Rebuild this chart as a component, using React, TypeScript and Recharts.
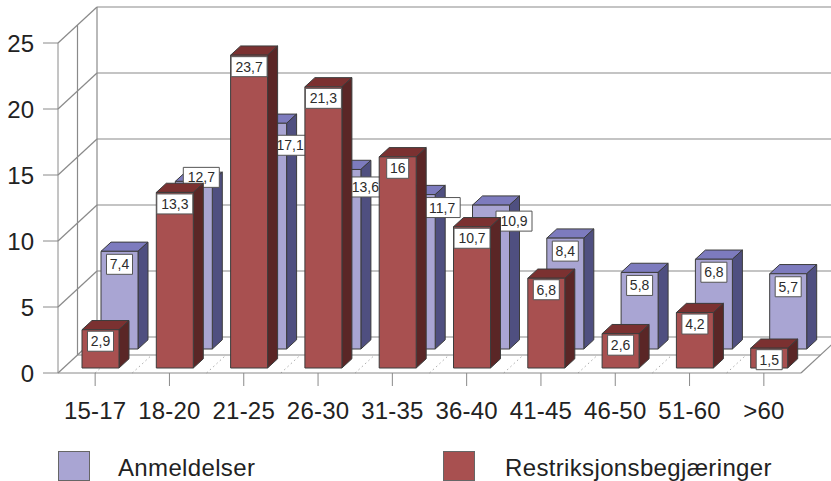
import { Bar, BarChart, CartesianGrid, Legend, XAxis, YAxis } from "recharts";

const ageGroups = ["15-17", "18-20", "21-25", "26-30", "31-35", "36-40", "41-45", "46-50", "51-60", ">60"];
const anmeldelser = [7.4, 12.7, 17.1, 13.6, 11.7, 10.9, 8.4, 5.8, 6.8, 5.7];
const restriksjon = [2.9, 13.3, 23.7, 21.3, 16, 10.7, 6.8, 2.6, 4.2, 1.5];
const yTicks = [0, 5, 10, 15, 20, 25];

const rows = ageGroups.map((group, i) => ({
  group,
  anmeldelser: anmeldelser[i],
  restriksjon: restriksjon[i],
}));

// hand placed like in the original, the blue labels get pushed out from behind the red bars
const blueNudge = [[0, 0], [7.5, -17], [22, 9], [23, 4.5], [25.5, 0], [23, 3], [0, 0], [0, 0], [0, 0], [0, 0]];

const WIDTH = 831;
const HEIGHT = 481;
const LEFT = 58;
const RIGHT = 801;
const TOP = 43;
const BOTTOM = 373;
const DEPTH_X = 39;
const DEPTH_Y = 36;
const BAR = 37;
const GRID = "#8a8a8a";
const FONT = "'Liberation Sans', Arial, sans-serif";

const BLUE = { front: "#a9a5d3", top: "#7d7bbe", side: "#4f4f80" };
const RED = { front: "#a85050", top: "#7b3131", side: "#5a2626" };

function ValueLabel({ cx, cy, text }: { cx: number; cy: number; text: string }) {
  const w = text.length >= 4 ? 36 : text.length === 3 ? 26 : 22;
  return (
    <g>
      <rect x={cx - w / 2} y={cy - 10} width={w} height={20} fill="#fff" stroke="#555" strokeWidth={1} />
      <text x={cx} y={cy + 5} textAnchor="middle" fontFamily={FONT} fontSize={14} fill="#2c2c2c">
        {text}
      </text>
    </g>
  );
}

function makeShape(colors: typeof BLUE, shift: number, side: number, labelGap: number, nudge?: number[][]) {
  return function Prism(props: any) {
    const { x, y, height, index, value } = props;
    const l = x + shift;
    const t = y - shift;
    const r = l + BAR;
    const b = t + height;
    const [dx, dy] = nudge ? nudge[index] : [0, 0];
    return (
      <g stroke="#3c3c3c" strokeWidth={1} strokeLinejoin="round">
        <path d={`M${l},${t} L${l + side},${t - side * 0.92} L${r + side},${t - side * 0.92} L${r},${t} Z`} fill={colors.top} />
        <path d={`M${r},${t} L${r + side},${t - side * 0.92} L${r + side},${b - side * 0.92} L${r},${b} Z`} fill={colors.side} />
        <rect x={l} y={t} width={BAR} height={height} fill={colors.front} />
        <g stroke="none">
          <ValueLabel cx={l + BAR / 2 + dx} cy={t + labelGap + dy} text={String(value).replace(".", ",")} />
        </g>
      </g>
    );
  };
}

function wallLine(props: any) {
  const { x1, y1, key } = props;
  const backY = y1 - DEPTH_Y;
  const backX = x1 + DEPTH_X;
  return (
    <g key={key} stroke={GRID} strokeWidth={1.2} fill="none">
      <line x1={x1} y1={y1} x2={backX} y2={backY} />
      <line x1={backX} y1={backY} x2={WIDTH} y2={backY} />
      {y1 === BOTTOM && (
        <>
          <line x1={LEFT + DEPTH_X / 2} y1={TOP - DEPTH_Y / 2} x2={LEFT + DEPTH_X / 2} y2={BOTTOM - DEPTH_Y / 2} />
          <line x1={backX} y1={TOP - DEPTH_Y} x2={backX} y2={backY} />
          <line x1={LEFT + DEPTH_X / 2} y1={BOTTOM - DEPTH_Y / 2} x2={RIGHT + DEPTH_X / 2} y2={BOTTOM - DEPTH_Y / 2} />
          <line x1={RIGHT} y1={BOTTOM} x2={RIGHT + DEPTH_X} y2={backY} />
        </>
      )}
    </g>
  );
}

function floorDots(props: any) {
  const { x1, key } = props;
  const x = x1 + (RIGHT - LEFT) / ageGroups.length / 2;
  if (x >= RIGHT - 1) return <g key={key} />;
  return (
    <line
      key={key}
      x1={x}
      y1={BOTTOM}
      x2={x + DEPTH_X / 2}
      y2={BOTTOM - DEPTH_Y / 2}
      stroke="#a8a8a8"
      strokeWidth={1}
      strokeDasharray="1.5 3"
    />
  );
}

function LegendRow({ payload }: any) {
  const swatchX = [58, 443];
  const textX = [118, 505];
  return (
    <div
      style={{
        position: "relative",
        width: WIDTH,
        height: HEIGHT,
        fontFamily: FONT,
        fontSize: 24,
        letterSpacing: 0.35,
        color: "#222",
      }}
    >
      {(payload ?? []).map((p: any, i: number) => (
        <div key={p.value}>
          <div
            style={{
              position: "absolute",
              left: swatchX[i],
              top: 451,
              width: 30,
              height: 28,
              background: p.color,
              border: "1px solid #666",
            }}
          />
          <div style={{ position: "absolute", left: textX[i], top: 454, whiteSpace: "nowrap" }}>{p.value}</div>
        </div>
      ))}
    </div>
  );
}

export default function App() {
  return (
    <div style={{ position: "absolute", left: 0, top: 0, width: WIDTH, height: HEIGHT, background: "#fff", overflow: "hidden" }}>
      <BarChart
        width={WIDTH}
        height={HEIGHT}
        data={rows}
        margin={{ top: TOP, right: WIDTH - RIGHT, bottom: HEIGHT - BOTTOM - 40, left: 0 }}
        barSize={BAR}
        barGap={-BAR}
      >
        <CartesianGrid horizontal={wallLine} vertical={floorDots} />
        <XAxis
          dataKey="group"
          interval={0}
          height={40}
          tickSize={13}
          tickMargin={16}
          stroke={GRID}
          tick={{ fontFamily: FONT, fontSize: 24, letterSpacing: 0.2, fill: "#222" }}
        />
        <YAxis
          width={LEFT}
          domain={[0, 25]}
          ticks={yTicks}
          tickSize={15}
          tickMargin={9}
          stroke={GRID}
          tick={{ fontFamily: FONT, fontSize: 24, fill: "#222" }}
        />
        <Legend
          layout="horizontal"
          verticalAlign="middle"
          wrapperStyle={{ left: 0, top: 0, width: WIDTH, height: HEIGHT, pointerEvents: "none" }}
          content={<LegendRow />}
        />
        <Bar
          dataKey="anmeldelser"
          name="Anmeldelser"
          fill={BLUE.front}
          isAnimationActive={false}
          shape={makeShape(BLUE, 24, 10, 13, blueNudge)}
        />
        <Bar
          dataKey="restriksjon"
          name="Restriksjonsbegjæringer"
          fill={RED.front}
          isAnimationActive={false}
          shape={makeShape(RED, 5, 10, 11.5)}
        />
      </BarChart>
    </div>
  );
}
